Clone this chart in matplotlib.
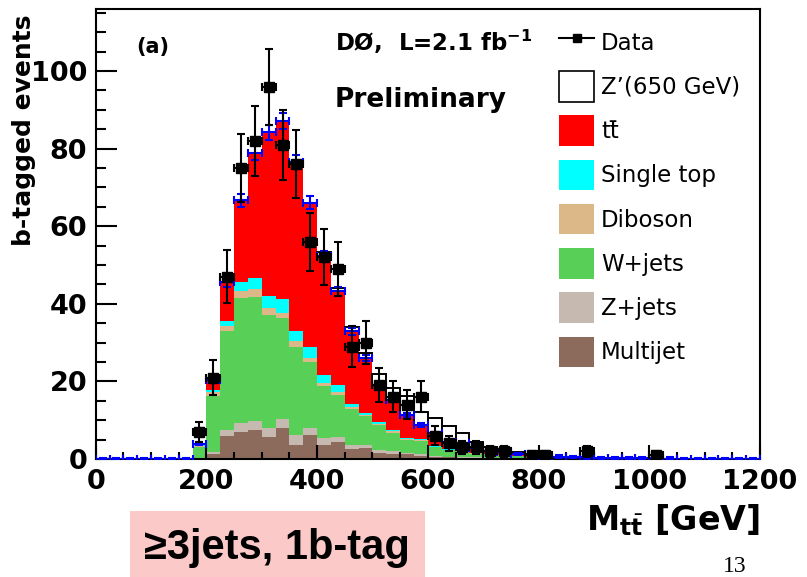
import numpy as np
import matplotlib.pyplot as plt
from matplotlib.patches import Patch, Rectangle
from matplotlib.lines import Line2D
from matplotlib.ticker import MultipleLocator

# binning: 25 GeV bins from 0 to 1200, filled bins start at 175 GeV
bin_width = 25
x_max = 1200
first_bin = 175

# background components per bin (175, 200, ..., 1025 GeV), stacked bottom -> top
multijet = [0.0, 1.2, 6.0, 7.0, 7.4, 5.8, 7.9, 3.6, 6.2, 3.6, 4.5, 2.5, 2.8, 1.5, 1.4, 1.2,
            0.8, 0.5, 0.4, 0.3, 0.2, 0.2, 0.1, 0.1, 0.05, 0.05, 0, 0, 0, 0, 0, 0, 0, 0, 0]
zjets = [0.2, 0.5, 1.5, 2.2, 2.4, 2.1, 2.4, 2.6, 1.7, 1.7, 1.3, 1.0, 0.8, 0.7, 0.6, 0.4,
         0.4, 0.3, 0.2, 0.2, 0.2, 0.1, 0.1, 0.1, 0.05, 0.05, 0.05, 0, 0, 0, 0, 0, 0, 0, 0]
wjets = [3.0, 14.6, 25.4, 32.3, 32.0, 29.3, 26.0, 22.8, 17.2, 13.4, 10.7, 9.3, 7.4, 6.6, 4.8, 3.3,
         3.5, 2.2, 1.6, 1.4, 1.0, 0.7, 0.7, 0.5, 0.4, 0.3, 0.25, 0.2, 0.15, 0.1, 0.1, 0.1, 0.1, 0.05, 0.05]
diboson = [0.2, 1.1, 1.5, 1.7, 1.9, 1.7, 1.3, 1.3, 0.9, 0.8, 0.8, 0.5, 0.4, 0.3, 0.3, 0.2,
           0.2, 0.2, 0.1, 0.1, 0.1, 0.1, 0.05, 0, 0, 0, 0, 0, 0, 0, 0, 0, 0, 0, 0]
single_top = [0.1, 0.4, 1.3, 2.5, 3.0, 3.0, 3.7, 2.6, 2.9, 2.2, 1.8, 0.9, 0.5, 0.5, 0.4, 0.3,
              0.2, 0.2, 0.2, 0.1, 0.1, 0.1, 0.05, 0.05, 0.05, 0, 0, 0, 0, 0, 0, 0, 0, 0, 0]
ttbar = [0.4, 2.5, 9.9, 21.0, 32.3, 42.3, 45.9, 43.7, 37.2, 30.6, 24.1, 18.7, 14.1, 9.5, 7.7, 6.0,
         3.7, 3.2, 2.0, 2.0, 1.2, 0.9, 0.9, 0.55, 0.45, 0.4, 0.3, 0.3, 0.25, 0.2, 0.2, 0.1, 0.1, 0.1, 0.05]
zprime = [0, 0, 0, 0, 0, 0, 0, 0, 0, 1.0, 0.8, 1.1, 1.3, 2.9, 3.1, 4.9,
          3.4, 3.9, 4.0, 2.7, 1.7, 1.1, 0.7, 0.5, 0.4, 0.2, 0, 0, 0, 0, 0, 0, 0, 0, 0]
data = [7, 21, 47, 75, 82, 96, 81, 76, 56, 52, 49, 29, 30, 19, 16, 14,
        16, 6, 4, 3, 3, 2, 2, 0, 1, 1, 0, 0, 2, 0, 0, 0, 0, 1, 0]

labels = ['Multijet', 'Z+jets', 'W+jets', 'Diboson', 'Single top', 'tt\u0304']
colors = ['#8c6a5c', '#c6bab0', '#58d058', '#dcb888', '#00ffff', '#ff0000']

edges = np.arange(0, x_max + bin_width, bin_width)
centers = edges[:-1] + bin_width / 2
nbins = len(centers)
i0 = first_bin // bin_width


def full(vals):
    arr = np.zeros(nbins)
    arr[i0:i0 + len(vals)] = vals
    return arr


comps = [full(v) for v in [multijet, zjets, wjets, diboson, single_top, ttbar]]
zp = full(zprime)
dat = full(data)

fig = plt.figure(figsize=(8.07, 5.77), dpi=100)
W, H = 807, 577
ax = fig.add_axes([95.7 / W, 1 - 459 / H, (760 - 95.7) / W, (459 - 9) / H])

base = np.zeros(nbins)
for vals, col in zip(comps, colors):
    top = base + vals
    ax.stairs(top, edges, baseline=base, fill=True, color=col, lw=0, zorder=1)
    base = top
total = base

# Z' on top of the SM sum
m = zp > 0
ax.bar(centers[m], zp[m], width=bin_width, bottom=total[m], facecolor='white',
       edgecolor='black', lw=1.4, zorder=2)

# MC total with uncertainty
ax.errorbar(centers, total, xerr=bin_width / 2, yerr=0.02 * total + 0.3, fmt='none',
            ecolor='#0000ff', elinewidth=1.5, capsize=3, capthick=1.5, zorder=3)

# data points
md = dat > 0
ax.errorbar(centers[md], dat[md], xerr=bin_width / 2, yerr=np.sqrt(dat[md]), fmt='s',
            color='black', ms=6.5, elinewidth=1.5, capsize=3, capthick=1.5, zorder=4)

ax.set_xlim(0, x_max)
ax.set_ylim(0, 116)
ax.xaxis.set_major_locator(MultipleLocator(200))
ax.xaxis.set_minor_locator(MultipleLocator(50))
ax.yaxis.set_major_locator(MultipleLocator(20))
ax.yaxis.set_minor_locator(MultipleLocator(5))
ax.tick_params(axis='x', which='major', direction='in', length=10, width=1.5, pad=7)
ax.tick_params(axis='x', which='minor', direction='in', length=5, width=1.5)
ax.tick_params(axis='y', which='major', direction='in', length=15, width=1.5, pad=6)
ax.tick_params(axis='y', which='minor', direction='in', length=7.5, width=1.5)
for lab in ax.get_xticklabels() + ax.get_yticklabels():
    lab.set_fontsize(19.5)
    lab.set_fontweight('bold')
for s in ax.spines.values():
    s.set_linewidth(1.5)

# legend
handles = [Line2D([], [], color='black', marker='s', ms=6, lw=1.5),
           Patch(facecolor='white', edgecolor='black', lw=1.2)]
handles += [Patch(facecolor=c, edgecolor='none') for c in colors[::-1]]
names = ['Data', "Z\u2019(650 GeV)"] + labels[::-1]
fig.legend(handles, names, loc='upper left', bbox_to_anchor=(559 / W, 1 - 27 / H),
           frameon=False, fontsize=16.5, handlelength=1.53, handleheight=1.67,
           labelspacing=0.6, handletextpad=0.3, borderpad=0, borderaxespad=0)

# labels and captions
fig.text(136 / W, 1 - 47 / H, '(a)', fontsize=15, weight='bold', va='center')
fig.text(335 / W, 1 - 42 / H, r'D$\mathbf{\O}$,  L=2.1 fb$^{\mathbf{-1}}$', fontsize=16.5,
         weight='bold', va='center')
fig.text(335 / W, 1 - 100 / H, 'Preliminary', fontsize=19, weight='bold', va='center')
fig.text(24 / W, 1 - 130 / H, 'b-tagged events', rotation=90, fontsize=18, weight='bold',
         ha='center', va='center')
fig.text(760 / W, 1 - 520 / H, r'$\mathbf{M}_{\mathbf{t}\bar{\mathbf{t}}}$ [GeV]', fontsize=24,
         weight='bold', ha='right', va='center')

fig.patches.append(Rectangle((130 / W, 0), 295 / W, 66 / H, transform=fig.transFigure,
                             facecolor='#fcc9c9', edgecolor='none', zorder=0))
fig.text(277 / W, 1 - 548 / H, '\u22653jets, 1b-tag', family='Liberation Sans', fontsize=30,
         weight='bold', ha='center', va='center')
fig.text(735 / W, 1 - 567 / H, '13', family='Liberation Serif', fontsize=17,
         ha='center', va='center')

fig.savefig('out.png', dpi=100)
